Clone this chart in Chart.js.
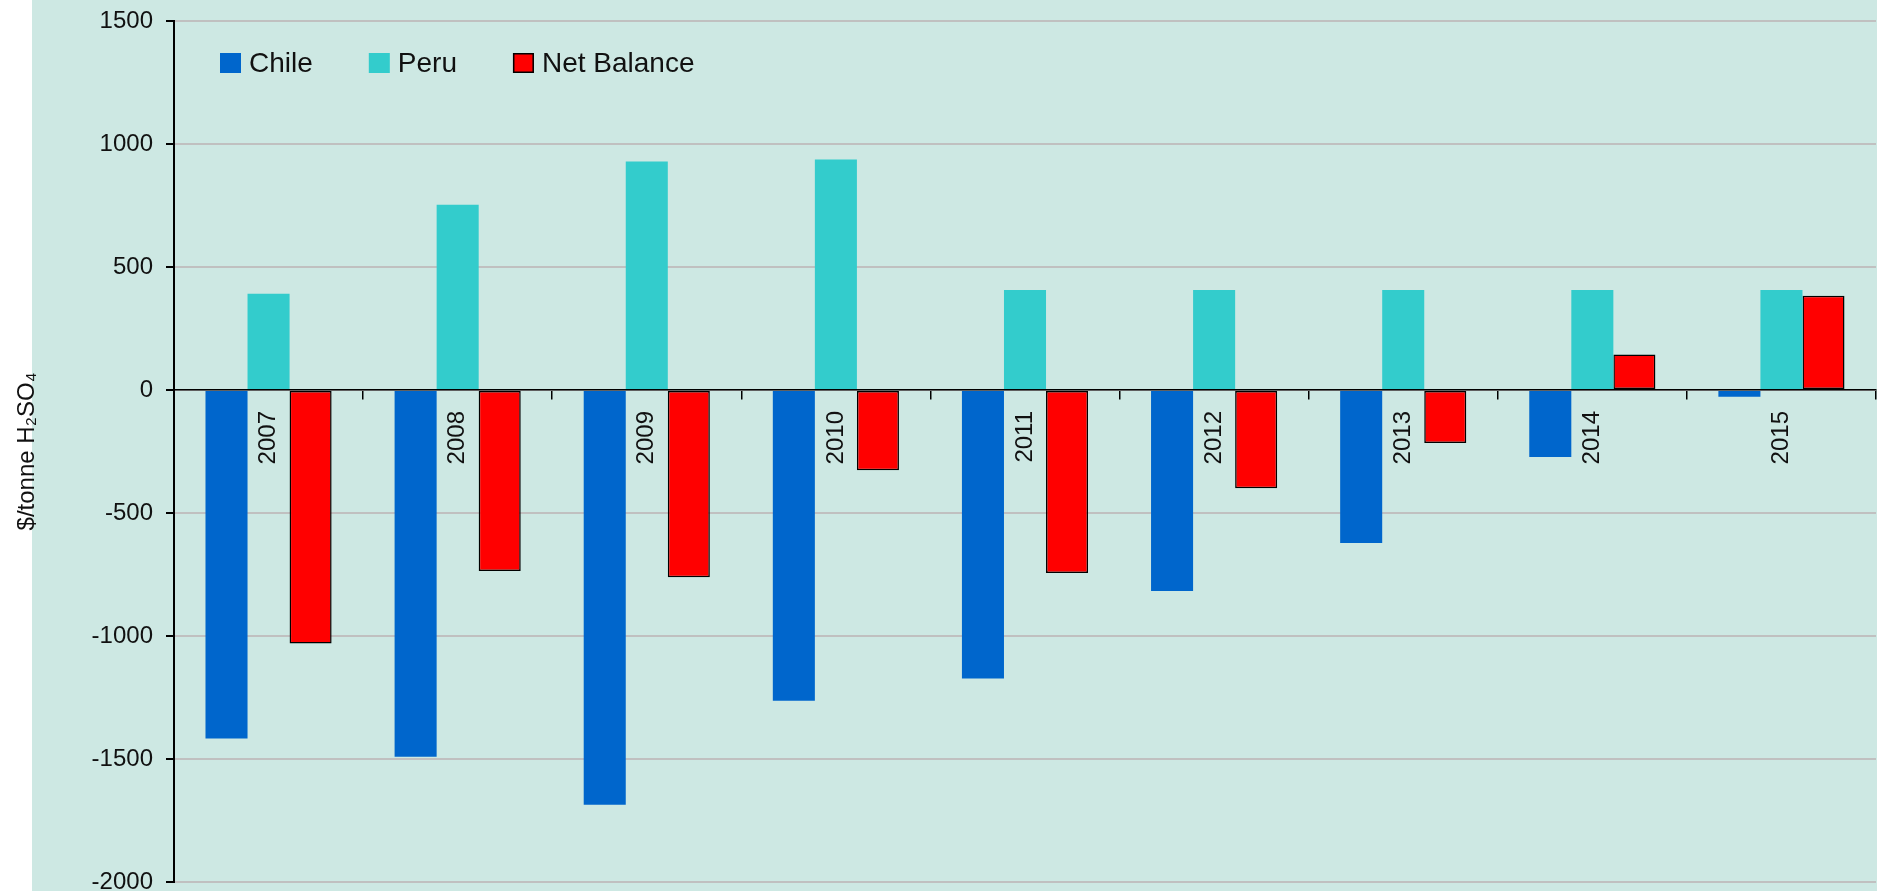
<!DOCTYPE html>
<html>
<head>
<meta charset="utf-8">
<title>Chile / Peru acid balance</title>
<script src="https://cdn.jsdelivr.net/npm/chart.js@4.4.1/dist/chart.umd.min.js"></script>
<style>
  html, body { margin: 0; padding: 0; background: #fff; }
  #wrap { width: 1877px; height: 891px; }
</style>
</head>
<body>
<div id="wrap"><canvas id="chart" width="1877" height="891"></canvas></div>
<script>
/* Values in $/tonne H2SO4 */
var years       = ['2007', '2008', '2009', '2010', '2011', '2012', '2013', '2014', '2015'];
var chileValues = [-1417, -1491, -1686, -1263, -1173, -817, -622, -272, -27];
var peruValues  = [391, 753, 929, 937, 407, 407, 407, 407, 407];
var netValues   = [-1030, -736, -761, -326, -744, -399, -215, 144, 383];

var yMin = -2000;
var yMax = 1500;
var yStep = 500;

var FONT = "'Liberation Sans', Arial, Helvetica, sans-serif";
Chart.defaults.font.family = FONT;
Chart.defaults.color = '#111';

// pale teal panel behind everything, leaving a white strip on the left
var panelBackground = {
  id: 'panelBackground',
  beforeDraw: function (chart) {
    var ctx = chart.ctx;
    ctx.save();
    ctx.fillStyle = '#ffffff';
    ctx.fillRect(0, 0, chart.width, chart.height);
    ctx.fillStyle = '#cde8e3';
    ctx.fillRect(32, 0, chart.width - 32, chart.height);
    ctx.restore();
  }
};

// legend sits inside the plot, top-left, one row
var insideLegend = {
  id: 'insideLegend',
  afterDraw: function (chart) {
    var ctx = chart.ctx;
    var x = 220, top = 53;
    ctx.save();
    ctx.font = '28px ' + FONT;
    ctx.textBaseline = 'middle';
    chart.data.datasets.forEach(function (ds) {
      ctx.fillStyle = ds.backgroundColor;
      ctx.fillRect(x, top, 21, 20);
      if (ds.borderWidth) {
        ctx.lineWidth = ds.borderWidth;
        ctx.strokeStyle = ds.borderColor;
        ctx.strokeRect(x + 0.75, top + 0.75, 19.5, 18.5);
      }
      ctx.fillStyle = '#111';
      ctx.fillText(ds.label, x + 29, top + 11);
      x += 29 + ctx.measureText(ds.label).width + 56;
    });
    ctx.restore();
  }
};

new Chart(document.getElementById('chart'), {
  type: 'bar',
  data: {
    labels: years,
    datasets: [
      { label: 'Chile', data: chileValues, backgroundColor: '#0066cc', borderWidth: 0 },
      { label: 'Peru', data: peruValues, backgroundColor: '#33cccc', borderWidth: 0 },
      { label: 'Net Balance', data: netValues, backgroundColor: '#ff0000',
        borderColor: '#000000', borderWidth: 1.5, borderSkipped: false }
    ]
  },
  options: {
    responsive: false,
    animation: false,
    datasets: { bar: { categoryPercentage: 0.667, barPercentage: 1.0 } },
    layout: { padding: { left: 0, top: 21, right: 1, bottom: 9 } },
    plugins: {
      legend: { display: false },
      tooltip: { enabled: false }
    },
    scales: {
      x: {
        position: { y: 0 },
        z: 1,
        border: { display: true, color: '#000', width: 1.5 },
        grid: { drawOnChartArea: false, drawTicks: true, tickLength: 9, color: '#000', lineWidth: 1.5 },
        ticks: { autoSkip: false, minRotation: 90, maxRotation: 90, padding: 12,
                 color: '#111', font: { size: 24 } }
      },
      y: {
        min: yMin,
        max: yMax,
        border: { display: true, color: '#000', width: 2 },
        grid: { color: '#c0c0c0', lineWidth: 2, tickColor: '#000', tickWidth: 2, tickLength: 8 },
        ticks: {
          stepSize: yStep,
          padding: 13,
          color: '#111',
          font: { size: 24 },
          callback: function (v) { return String(v); }
        },
        title: {
          display: true,
          text: '$/tonne H\u2082SO\u2084',
          color: '#111',
          font: { size: 24 },
          padding: { top: 13, bottom: 0 }
        },
        afterFit: function (scale) {
          scale.width = 174;
          scale.paddingTop = 0;
          scale.paddingBottom = 0;
        }
      }
    }
  },
  plugins: [panelBackground, insideLegend]
});
</script>
</body>
</html>
